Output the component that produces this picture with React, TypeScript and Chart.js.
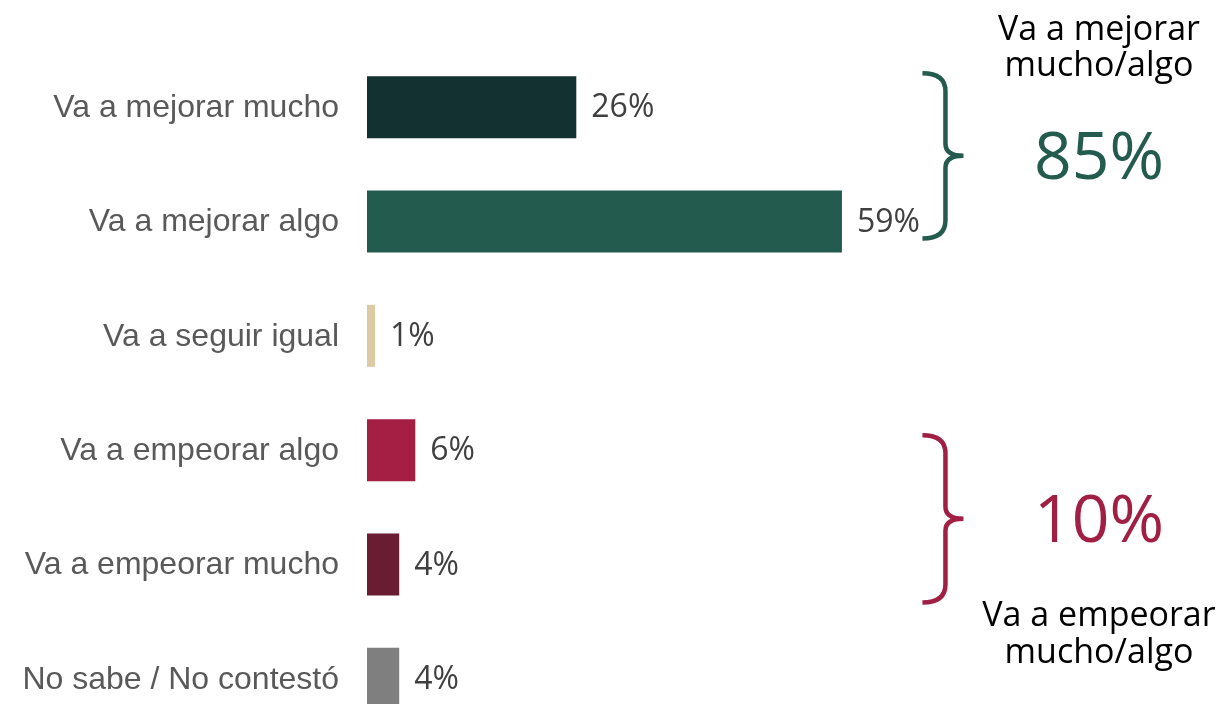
import React, { useEffect, useRef } from 'react';
import { Chart, registerables } from 'chart.js';

Chart.register(...registerables);

const categories = [
  'Va a mejorar mucho',
  'Va a mejorar algo',
  'Va a seguir igual',
  'Va a empeorar algo',
  'Va a empeorar mucho',
  'No sabe / No contestó',
];
const values = [26, 59, 1, 6, 4, 4];
const barColors = ['#133130', '#235B4E', '#DDC9A3', '#A51F45', '#691C32', '#7F7F7F'];
const valueLabels = ['26%', '59%', '1%', '6%', '4%', '4%'];

const groupTotals = ['85%', '10%'];
const groupTitles = [
  ['Va a mejorar', 'mucho/algo'],
  ['Va a empeorar', 'mucho/algo'],
];
const groupColors = ['#235B4E', '#A01F43'];

const LABEL_FONT = '"Liberation Sans", Arial, sans-serif';
const VALUE_FONT = '"Open Sans", sans-serif';

const overlayPlugin = {
  id: 'overlay',
  afterDatasetsDraw(chart: any) {
    const ctx = chart.ctx;
    const y = chart.scales.y;
    const x = chart.scales.x;

    // category labels
    ctx.save();
    ctx.fillStyle = '#595959';
    ctx.font = `32px ${LABEL_FONT}`;
    ctx.textAlign = 'right';
    ctx.textBaseline = 'middle';
    categories.forEach((c, i) => {
      ctx.fillText(c, x.left - 28, y.getPixelForValue(i) + 1);
    });
    ctx.restore();

    // value labels
    const meta = chart.getDatasetMeta(0);
    ctx.save();
    ctx.fillStyle = '#404040';
    ctx.font = `32px ${VALUE_FONT}`;
    ctx.textAlign = 'left';
    ctx.textBaseline = 'middle';
    meta.data.forEach((bar: any, i: number) => {
      ctx.fillText(valueLabels[i], bar.x + 15, bar.y + 1);
    });
    ctx.restore();

    // brackets and group totals
    const x0 = x.getPixelForValue(69);
    const xv = x0 + 23;
    const xt = x0 + 41;
    const groups = [
      { top: y.getPixelForValue(0) - 34, bottom: y.getPixelForValue(1) + 17 },
      { top: y.getPixelForValue(3) - 15, bottom: y.getPixelForValue(4) + 38 },
    ];
    groups.forEach((g, gi) => {
      const mid = (g.top + g.bottom) / 2;
      ctx.save();
      ctx.strokeStyle = groupColors[gi];
      ctx.lineWidth = 4.5;
      ctx.beginPath();
      ctx.moveTo(x0, g.top);
      ctx.quadraticCurveTo(xv, g.top, xv, g.top + 18);
      ctx.lineTo(xv, mid - 12);
      ctx.quadraticCurveTo(xv, mid, xt, mid);
      ctx.quadraticCurveTo(xv, mid, xv, mid + 12);
      ctx.lineTo(xv, g.bottom - 18);
      ctx.quadraticCurveTo(xv, g.bottom, x0, g.bottom);
      ctx.stroke();
      ctx.restore();

      const cx = 1099;
      ctx.save();
      ctx.textAlign = 'center';
      ctx.textBaseline = 'middle';
      ctx.fillStyle = groupColors[gi];
      ctx.font = `66px ${VALUE_FONT}`;
      ctx.fillText(groupTotals[gi], cx, mid + 4);
      ctx.fillStyle = '#000000';
      ctx.font = `34px ${VALUE_FONT}`;
      const lines = groupTitles[gi];
      if (gi === 0) {
        ctx.fillText(lines[0], cx, g.top - 43);
        ctx.fillText(lines[1], cx, g.top - 7);
      } else {
        ctx.fillText(lines[0], cx, g.bottom + 14);
        ctx.fillText(lines[1], cx, g.bottom + 51);
      }
      ctx.restore();
    });
  },
};

const App: React.FC = () => {
  const canvasRef = useRef<HTMLCanvasElement>(null);
  const chartRef = useRef<Chart>();

  useEffect(() => {
    document.body.style.margin = '0';
    if (!canvasRef.current) return;
    chartRef.current = new Chart(canvasRef.current, {
      type: 'bar',
      data: {
        labels: categories,
        datasets: [
          {
            data: values,
            backgroundColor: barColors,
            barPercentage: 0.542,
            categoryPercentage: 1,
          },
        ],
      },
      options: {
        indexAxis: 'y',
        responsive: false,
        animation: false,
        layout: { padding: { top: 50, bottom: 4, left: 0, right: 53 } },
        plugins: {
          legend: { display: false },
          tooltip: { enabled: false },
        },
        scales: {
          x: {
            min: 0,
            max: 100,
            display: false,
          },
          y: {
            grid: { display: false },
            border: { display: false },
            ticks: { display: false },
            afterFit: (scale: any) => {
              scale.width = 367;
            },
          },
        },
      },
      plugins: [overlayPlugin],
    });
    return () => {
      chartRef.current?.destroy();
    };
  }, []);

  return (
    <div style={{ width: 1225, height: 704, overflow: 'hidden', background: '#fff' }}>
      <canvas ref={canvasRef} width={1225} height={740} />
    </div>
  );
};

export default App;
